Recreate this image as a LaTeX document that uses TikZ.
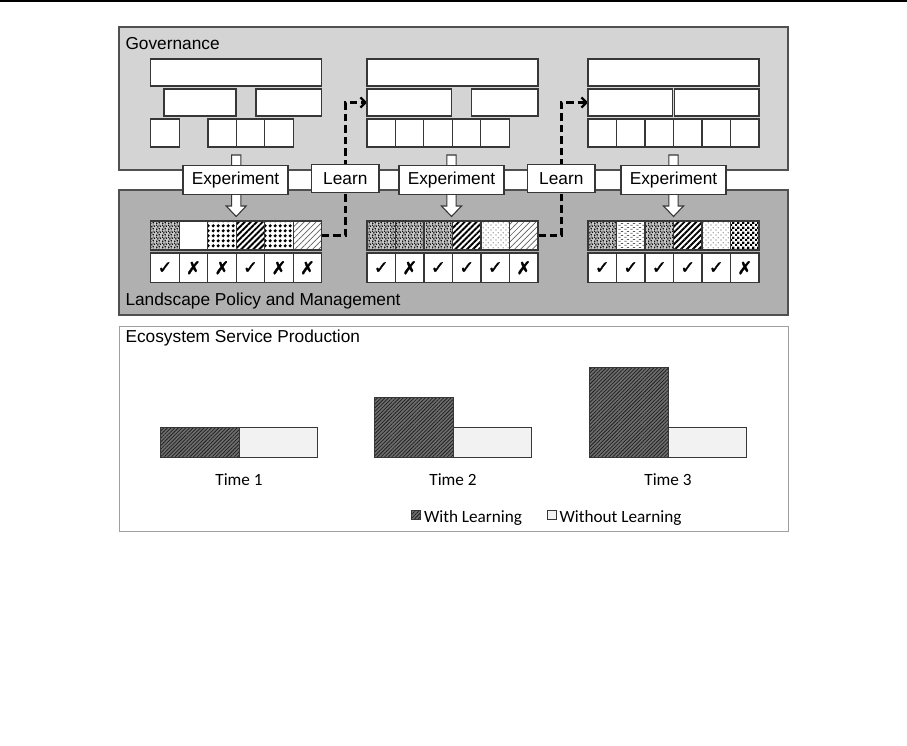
\documentclass[tikz,border=0pt]{standalone}
\usepackage{fontspec}
\setmainfont{Liberation Sans}
\newfontfamily\chartfont{Carlito}
\newfontfamily\markfont[FakeBold=1.6]{DejaVu Sans}
\usetikzlibrary{patterns,patterns.meta,arrows.meta}

\pgfdeclarelayer{back}
\pgfdeclarelayer{mid}
\pgfsetlayers{back,mid,main}

\definecolor{govfill}{RGB}{212,212,212}
\definecolor{landfill}{RGB}{176,176,176}
\definecolor{frame}{RGB}{80,80,80}
\definecolor{boxline}{RGB}{55,55,55}
\definecolor{barlight}{RGB}{242,242,242}
\definecolor{barbase}{RGB}{110,110,110}
\definecolor{hatchline}{RGB}{30,30,30}

% irregular fine speckle
\pgfdeclarepatternformonly{speckle}{\pgfpointorigin}{\pgfqpoint{6pt}{6pt}}{\pgfqpoint{6pt}{6pt}}{%
  \pgfpathcircle{\pgfqpoint{0.8pt}{0.9pt}}{0.95pt}
  \pgfpathcircle{\pgfqpoint{3.7pt}{1.4pt}}{0.95pt}
  \pgfpathcircle{\pgfqpoint{2.1pt}{3.6pt}}{0.95pt}
  \pgfpathcircle{\pgfqpoint{5.0pt}{4.3pt}}{0.95pt}
  \pgfpathcircle{\pgfqpoint{0.6pt}{5.4pt}}{0.85pt}
  \pgfpathcircle{\pgfqpoint{3.5pt}{5.6pt}}{0.7pt}
  \pgfusepath{fill}}
% large round dots on a square grid
\pgfdeclarepatternformonly{bigdots}{\pgfpointorigin}{\pgfqpoint{4.7pt}{4.7pt}}{\pgfqpoint{4.7pt}{4.7pt}}{%
  \pgfpathcircle{\pgfqpoint{2.35pt}{2.35pt}}{1.85pt}
  \pgfusepath{fill}}
% sparse staggered dots
\pgfdeclarepatternformonly{sparsedots}{\pgfpointorigin}{\pgfqpoint{5pt}{5pt}}{\pgfqpoint{5pt}{5pt}}{%
  \pgfpathcircle{\pgfqpoint{1.2pt}{1.2pt}}{0.7pt}
  \pgfpathcircle{\pgfqpoint{3.7pt}{3.7pt}}{0.7pt}
  \pgfusepath{fill}}
% short horizontal dashes
\pgfdeclarepatternformonly{hdashes}{\pgfpointorigin}{\pgfqpoint{6pt}{4pt}}{\pgfqpoint{6pt}{4pt}}{%
  \pgfpathrectangle{\pgfqpoint{0.3pt}{0.5pt}}{\pgfqpoint{2.6pt}{1pt}}
  \pgfpathrectangle{\pgfqpoint{3.3pt}{2.5pt}}{\pgfqpoint{2.6pt}{1pt}}
  \pgfusepath{fill}}
% small checkerboard
\pgfdeclarepatternformonly{smallcheck}{\pgfpointorigin}{\pgfqpoint{5pt}{5pt}}{\pgfqpoint{5pt}{5pt}}{%
  \pgfpathrectangle{\pgfqpoint{0pt}{0pt}}{\pgfqpoint{2.5pt}{2.5pt}}
  \pgfpathrectangle{\pgfqpoint{2.5pt}{2.5pt}}{\pgfqpoint{2.5pt}{2.5pt}}
  \pgfusepath{fill}}

\begin{document}
\begin{tikzpicture}[x=1pt,y=-1pt,
  every node/.style={inner sep=0pt, outer sep=0pt},
  txt/.style={font=\fontsize{17.3}{20}\selectfont},
  charttxt/.style={font=\chartfont\fontsize{17.2}{20}\selectfont},
  gbox/.style={draw=boxline, fill=white, line width=1.1pt, anchor=north west, minimum height=27pt},
  gsq/.style={gbox, minimum width=28.5pt, minimum height=28pt},
  pcell/.style={draw=boxline, fill=white, line width=1.1pt, anchor=north west, minimum width=28.5pt, minimum height=29pt},
  ccell/.style={draw=boxline, fill=white, line width=1.1pt, anchor=north west, minimum width=28.5pt, minimum height=29.7pt, font=\markfont\fontsize{17.5}{19}\selectfont},
  pblank/.style={},
  pspeck/.style={preaction={fill=gray!45}, pattern=speckle},
  pbig/.style={preaction={fill=white}, pattern=bigdots},
  pthick/.style={preaction={fill=white}, pattern={Lines[angle=45,distance=4.2pt,line width=1.9pt]}},
  plight/.style={preaction={fill=white}, pattern={Lines[angle=45,distance=4.2pt,line width=0.7pt]}, pattern color=gray!75!black},
  psparse/.style={preaction={fill=white}, pattern=sparsedots, pattern color=gray!70!black},
  pdash/.style={preaction={fill=white}, pattern=hdashes, pattern color=gray!70!black},
  pcheck/.style={preaction={fill=white}, pattern=smallcheck},
  tag/.style={draw=boxline, fill=white, line width=1.1pt, minimum height=28.4pt, txt},
  blockarrow/.style={draw=boxline, fill=white, line width=1.1pt, line join=miter},
  learnarrow/.style={line width=2.8pt, dash pattern=on 7.5pt off 4pt,
    -{Straight Barb[length=5pt,width=10pt,line width=2.2pt]}},
  darkbar/.style={draw=boxline, line width=0.9pt, preaction={fill=barbase},
    pattern={Lines[angle=45,distance=2.6pt,line width=0.75pt]}, pattern color=hatchline, anchor=south west},
  lightbar/.style={draw=boxline, line width=0.9pt, fill=barlight, anchor=south west}
]
\useasboundingbox (0,0) rectangle (907,746);
\fill[black] (0,0) rectangle (907,2);

% ---------- panels ----------
\begin{pgfonlayer}{back}
  \draw[frame, fill=govfill, line width=1.3pt] (119,27) rectangle (788,170);
  \draw[frame, fill=landfill, line width=1.3pt] (119,190) rectangle (788,315);
  \draw[gray!75, fill=white, line width=1pt] (119,326) rectangle (788,531);
\end{pgfonlayer}
\node[txt, anchor=west] (govlabel) at (125.5,44) {Governance};
\node[txt, anchor=west] (landlabel) at (125.5,301) {Landscape Policy and Management};
\node[txt, anchor=west] (ecolabel) at (125.5,338) {Ecosystem Service Production};

% ---------- governance structures ----------
\node[gbox, minimum width=171pt] (g1top) at (150.7,59) {};
\node[gbox, minimum width=72pt] (g1a) at (164,89) {};
\node[gbox, minimum width=65.7pt] (g1b) at (256,89) {};
\node[gsq] (g1s1) at (150.7,119) {};
\foreach \i in {2,3,4} \node[gsq] (g1s\i) at ({208+(\i-2)*28.3},119) {};

\node[gbox, minimum width=171pt] (g2top) at (367,59) {};
\node[gbox, minimum width=84.7pt] (g2a) at (367,89) {};
\node[gbox, minimum width=66.3pt] (g2b) at (471.7,89) {};
\foreach \i in {1,...,5} \node[gsq] (g2s\i) at ({367+(\i-1)*28.4},119) {};

\node[gbox, minimum width=171pt] (g3top) at (588,59) {};
\node[gbox, minimum width=84.3pt] (g3a) at (588,89) {};
\node[gbox, minimum width=84.7pt] (g3b) at (674.3,89) {};
\foreach \i in {1,...,6} \node[gsq] (g3s\i) at ({588+(\i-1)*28.5},119) {};

% ---------- management options and outcomes ----------
\foreach \p [count=\i] in {pspeck,pblank,pbig,pthick,pbig,plight}
  \node[pcell,\p] (p1\i) at ({150.7+(\i-1)*28.5},221) {};
\foreach \p [count=\i] in {pspeck,pspeck,pspeck,pthick,psparse,plight}
  \node[pcell,\p] (p2\i) at ({367+(\i-1)*28.5},221) {};
\foreach \p [count=\i] in {pspeck,pdash,pspeck,pthick,psparse,pcheck}
  \node[pcell,\p] (p3\i) at ({588+(\i-1)*28.5},221) {};

\foreach \m [count=\i] in {✓,✗,✗,✓,✗,✗}
  \node[ccell] (c1\i) at ({150.7+(\i-1)*28.5},253) {\m};
\foreach \m [count=\i] in {✓,✗,✓,✓,✓,✗}
  \node[ccell] (c2\i) at ({367+(\i-1)*28.5},253) {\m};
\foreach \m [count=\i] in {✓,✓,✓,✓,✓,✗}
  \node[ccell] (c3\i) at ({588+(\i-1)*28.5},253) {\m};

% ---------- experiment / learn cycle ----------
\node[tag, minimum width=105pt] (exp1) at (235.5,180) {Experiment};
\node[tag, minimum width=105pt] (exp2) at (451.5,180) {Experiment};
\node[tag, minimum width=105pt] (exp3) at (673.5,180) {Experiment};
\node[tag, minimum width=67.3pt] (learn1) at (345.3,178.5) {Learn};
\node[tag, minimum width=67.3pt] (learn2) at (561.3,178.5) {Learn};

\begin{pgfonlayer}{mid}
  \foreach \cx in {236.2,451.5,673.5}
    \draw[blockarrow] (\cx-4.6,155) -- (\cx+4.6,155) -- (\cx+4.6,206) -- (\cx+10,206)
      -- (\cx,216.5) -- (\cx-10,206) -- (\cx-4.6,206) -- cycle;
  \draw[learnarrow] (p16.east) -| (learn1.center) |- (g2a.west);
  \draw[learnarrow] (p26.east) -| (learn2.center) |- (g3a.west);
\end{pgfonlayer}

% ---------- ecosystem service production ----------
\node[darkbar, minimum width=79pt, minimum height=30pt] (d1) at (160,457) {};
\node[lightbar, minimum width=78pt, minimum height=30pt] (l1) at (239,457) {};
\node[darkbar, minimum width=79pt, minimum height=60pt] (d2) at (374,457) {};
\node[lightbar, minimum width=78pt, minimum height=30pt] (l2) at (453,457) {};
\node[darkbar, minimum width=79pt, minimum height=90pt] (d3) at (589,457) {};
\node[lightbar, minimum width=78pt, minimum height=30pt] (l3) at (668,457) {};

\node[charttxt] (t1) at (239,480) {Time 1};
\node[charttxt] (t2) at (453,480) {Time 2};
\node[charttxt] (t3) at (668,480) {Time 3};

\node[darkbar, line width=0.6pt, minimum width=9pt, minimum height=9pt, anchor=center] (k1) at (415.5,514.5) {};
\node[charttxt, anchor=west] (k1t) at (424,518) {With Learning};
\node[lightbar, line width=0.6pt, minimum width=9pt, minimum height=9pt, anchor=center] (k2) at (551.5,514.5) {};
\node[charttxt, anchor=west] (k2t) at (559.5,518) {Without Learning};
\end{tikzpicture}
\end{document}
